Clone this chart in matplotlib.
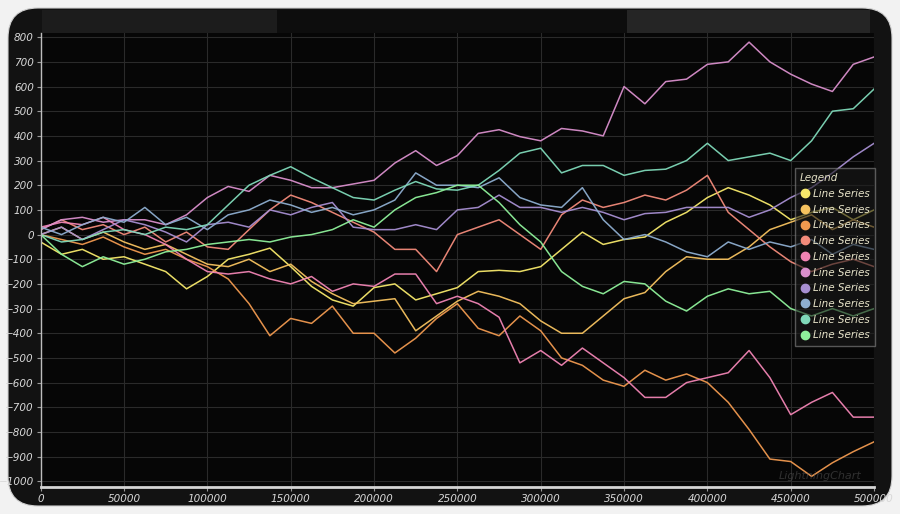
import matplotlib
matplotlib.use("Agg")
import matplotlib.pyplot as plt
from matplotlib.patches import FancyBboxPatch, Rectangle
from matplotlib.transforms import IdentityTransform
from matplotlib.lines import Line2D

# x positions, 12500 apart, 0 .. 500000
x = [i * 12500 for i in range(41)]

yellow = [-30, -80, -60, -100, -90, -120, -150, -220, -170, -100, -80, -55, -130, -210, -265, -290,
          -215, -200, -265, -240, -215, -150, -145, -150, -130, -60, 10, -40, -20, -10, 50, 90, 150,
          190, 160, 120, 60, 90, 110, 60, 100]
light_orange = [0, 30, -20, 10, -30, -60, -40, -80, -120, -130, -100, -150, -120, -190, -240, -280,
                -270, -260, -390, -330, -270, -230, -250, -280, -350, -400, -400, -330, -260, -235,
                -150, -90, -100, -100, -50, 20, 50, 80, 20, 60, 30]
orange = [0, -20, -40, -10, -50, -80, -60, -100, -130, -180, -280, -410, -340, -360, -290, -400,
          -400, -480, -420, -340, -280, -380, -410, -330, -390, -500, -530, -590, -615, -550, -590,
          -565, -600, -680, -790, -910, -920, -980, -925, -880, -840]
salmon = [20, 60, 20, 40, 0, 30, -30, 10, -50, -60, 20, 100, 160, 130, 90, 50, 10, -60, -60, -150,
          0, 30, 60, 0, -60, 80, 140, 110, 130, 160, 140, 180, 240, 90, 20, -50, -110, -150, -120,
          -100, -130]
pink = [30, 50, 40, 70, 20, 0, -40, -100, -150, -160, -150, -180, -200, -170, -230, -200, -210,
        -160, -160, -280, -250, -280, -335, -520, -470, -530, -460, -520, -580, -660, -660, -600,
        -580, -560, -470, -580, -730, -680, -640, -740, -740]
violet = [20, 60, 70, 50, 60, 60, 40, 80, 150, 195, 175, 240, 220, 190, 190, 205, 220, 290, 340,
          280, 320, 410, 425, 397, 380, 430, 420, 400, 600, 530, 620, 630, 690, 700, 780, 700, 650,
          610, 580, 690, 720]
lavender = [0, 30, -20, 20, 60, 40, 10, -30, 40, 50, 30, 100, 80, 110, 130, 30, 20, 20, 40, 20,
            100, 110, 160, 110, 110, 90, 110, 90, 60, 85, 90, 110, 110, 110, 70, 100, 150, 190, 250,
            315, 370]
blue_gray = [30, 0, 40, 70, 50, 110, 40, 70, 20, 80, 100, 140, 120, 90, 110, 80, 100, 140, 250, 200,
             200, 190, 230, 150, 120, 110, 190, 60, -20, 0, -30, -70, -90, -30, -60, -30, -50, -20,
             -80, -40, -60]
teal = [0, -30, -20, 10, 20, 0, 30, 20, 40, 120, 200, 240, 275, 230, 190, 150, 140, 180, 215, 185,
        180, 200, 260, 330, 350, 250, 280, 280, 240, 260, 265, 300, 370, 300, 315, 330, 300, 380,
        500, 510, 590]
green = [0, -80, -130, -90, -120, -100, -70, -60, -40, -30, -20, -30, -10, 0, 20, 60, 30, 100, 150,
         170, 200, 200, 130, 40, -30, -150, -210, -240, -190, -200, -270, -310, -250, -220, -240,
         -230, -300, -330, -300, -330, -300]

series = [yellow, light_orange, orange, salmon, pink, violet, lavender, blue_gray, teal, green]
colors = ["#f7e96b", "#f6c25f", "#f0994f", "#f38b7b", "#f184b4",
          "#d98fcc", "#a78fd2", "#8eaed0", "#7fd9b9", "#8ff29b"]
label = "Line Series"

fig = plt.figure(figsize=(9, 5.14), dpi=100)
fig.patch.set_facecolor("#f2f2f2")

# dark rounded panel + header strip
fig.add_artist(FancyBboxPatch((8, 8), 884, 498, boxstyle="round,pad=0,rounding_size=30",
                              transform=IdentityTransform(), facecolor="#121212",
                              edgecolor="#d0d0d0", linewidth=0.8, zorder=0))
for x0, x1, c in [(42, 277, "#1c1c1c"), (277, 627, "#0d0d0d"), (627, 870, "#252525")]:
    fig.add_artist(Rectangle((x0, 481), x1 - x0, 23, transform=IdentityTransform(),
                             facecolor=c, edgecolor="none", zorder=0.5))

ax = fig.add_axes([0.0452, 0.0531, 0.9260, 0.8827])
ax.set_facecolor("#060606")

for ys, c in zip(series, colors):
    ax.plot(x, ys, color=c, lw=1.1, alpha=0.95)

ax.set_xlim(0, 500000)
ax.set_ylim(-1022, 817)
ax.set_xticks(range(0, 500001, 50000))
ax.set_yticks(range(-1000, 801, 100))
ax.grid(True, color="#2a2a2a", lw=0.8)
ax.set_axisbelow(True)

for s in ["top", "right"]:
    ax.spines[s].set_visible(False)
ax.spines["left"].set_color("#bdbdbd")
ax.spines["left"].set_linewidth(1)
ax.spines["bottom"].set_color("#d5d5d5")
ax.spines["bottom"].set_linewidth(2)
ax.tick_params(colors="#9a9a9a", length=3, width=0.8, labelsize=7.5, pad=2)
for t in ax.get_xticklabels() + ax.get_yticklabels():
    t.set_color("#d8d8d8")
    t.set_fontstyle("italic")

handles = [Line2D([], [], ls="none", marker="o", ms=6, color=c) for c in colors]
leg = ax.legend(handles, [label] * 10, title="Legend", loc="upper left",
                bbox_to_anchor=(0.905, 0.7025), fontsize=7.5, title_fontsize=7.5,
                labelspacing=0.55, handletextpad=0.2, handlelength=1.0, borderpad=0.5,
                frameon=True, fancybox=False, facecolor="#1a1a1a", edgecolor="#8a8a8a",
                framealpha=0.6, borderaxespad=0)
leg._legend_box.align = "left"
leg.get_title().set_color("#e6e2c8")
leg.get_title().set_fontstyle("italic")
for t in leg.get_texts():
    t.set_color("#e6e2c8")
    t.set_fontstyle("italic")

ax.text(0.985, 0.012, "LightningChart", transform=ax.transAxes, ha="right", va="bottom",
        fontsize=8, color="#5a5a5a", alpha=0.5, style="italic")

fig.savefig("out.png", dpi=100, facecolor=fig.get_facecolor())
